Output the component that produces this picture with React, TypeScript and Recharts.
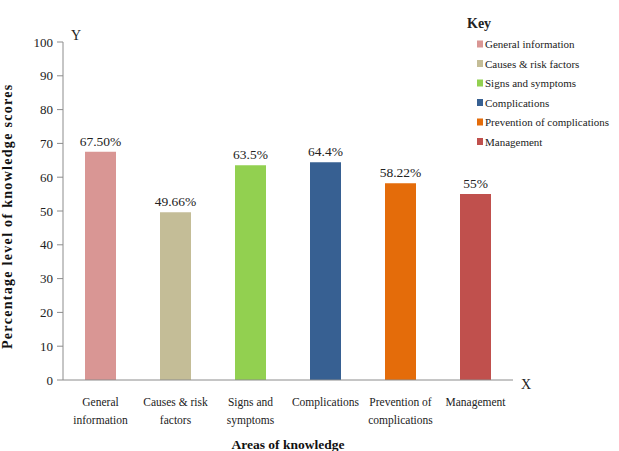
import React from "react";
import {
  BarChart,
  Bar,
  XAxis,
  YAxis,
  Cell,
  LabelList,
  Customized,
} from "recharts";

const categories = [
  "General information",
  "Causes & risk factors",
  "Signs and symptoms",
  "Complications",
  "Prevention of complications",
  "Management",
];

// x tick labels as they wrap in the picture
const tickLines = [
  ["General", "information"],
  ["Causes & risk", "factors"],
  ["Signs and", "symptoms"],
  ["Complications"],
  ["Prevention of", "complications"],
  ["Management"],
];

const scores = [67.5, 49.66, 63.5, 64.4, 58.22, 55];
const scoreLabels = ["67.50%", "49.66%", "63.5%", "64.4%", "58.22%", "55%"];
const yTicks = [0, 10, 20, 30, 40, 50, 60, 70, 80, 90, 100];

const COLORS = ["#D99694", "#C4BD97", "#92D050", "#376092", "#E46C0A", "#C0504D"];

const FONT = "'Liberation Serif', 'Times New Roman', serif";
const AXIS = "#8c8c8c";

const data = categories.map((name, i) => ({
  name,
  value: scores[i],
  label: scoreLabels[i],
}));

function XTick(props: any) {
  const { x, y, index } = props;
  const lines = tickLines[index] ?? [];
  return (
    <text x={x} y={y + 10} textAnchor="middle" fontFamily={FONT} fontSize={11.5} fill="#222">
      {lines.map((l, i) => (
        <tspan key={i} x={x} dy={i === 0 ? 8 : 18}>
          {l}
        </tspan>
      ))}
    </text>
  );
}

// key box in the top right, drawn into the chart's svg
function KeyAndLetters() {
  return (
    <g fontFamily={FONT} fill="#222">
      <text x={467} y={28} fontSize={14} fontWeight="bold">Key</text>
      {categories.map((c, i) => (
        <g key={c}>
          <rect x={477} y={40.5 + i * 19.5} width={6} height={7} fill={COLORS[i]} />
          <text x={485} y={48 + i * 19.5} fontSize={11}>{c}</text>
        </g>
      ))}
      <text x={71} y={40} fontSize={14}>Y</text>
      <text x={521} y={389} fontSize={14}>X</text>
    </g>
  );
}

export default function App() {
  return (
    <div style={{ position: "absolute", left: 0, top: 0, background: "#fff" }}>
      <BarChart
        width={619}
        height={451}
        data={data}
        margin={{ top: 42, right: 106, bottom: 21, left: 20 }}
        barCategoryGap={0}
      >
        <XAxis
          dataKey="name"
          interval={0}
          height={50}
          tickLine={false}
          axisLine={{ stroke: AXIS }}
          tick={<XTick />}
          label={{
            value: "Areas of knowledge",
            position: "insideBottom",
            offset: -19,
            fontFamily: FONT,
            fontSize: 13.5,
            fontWeight: "bold",
            fill: "#111",
          }}
        />
        <YAxis
          domain={[0, 100]}
          ticks={yTicks}
          width={43}
          tickSize={6}
          tickMargin={4}
          axisLine={{ stroke: AXIS }}
          tickLine={{ stroke: AXIS }}
          tick={{ fontFamily: FONT, fontSize: 13, fill: "#222" }}
          label={{
            value: "Percentage level of knowledge scores",
            angle: -90,
            position: "insideLeft",
            offset: -13,
            dy: 138,
            fontFamily: FONT,
            fontSize: 14,
            fontWeight: "bold",
            letterSpacing: 1.3,
            fill: "#111",
          }}
        />
        <Bar dataKey="value" barSize={31} isAnimationActive={false}>
          {data.map((_, i) => (
            <Cell key={i} fill={COLORS[i]} />
          ))}
          <LabelList
            dataKey="label"
            position="top"
            offset={6}
            fontFamily={FONT}
            fontSize={13.5}
            fill="#222"
          />
        </Bar>
        <Customized component={KeyAndLetters} />
      </BarChart>
    </div>
  );
}
